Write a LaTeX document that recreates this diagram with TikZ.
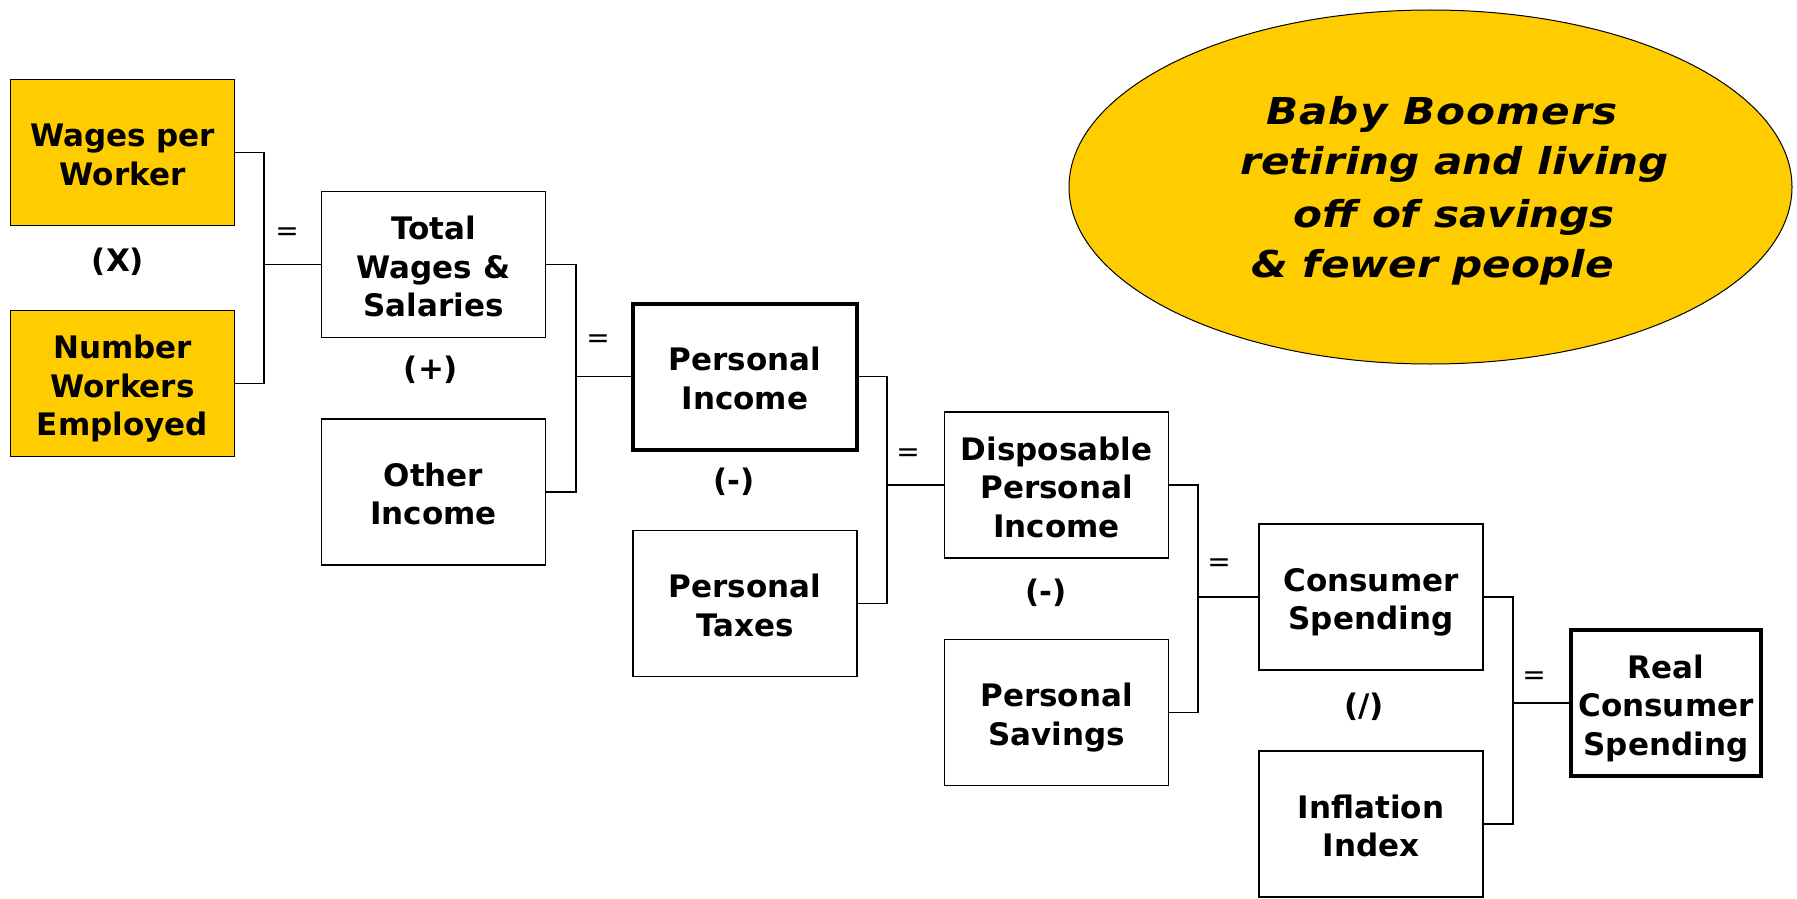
\documentclass[tikz,border=0pt]{standalone}
\usepackage{fontspec}
\setmainfont{DejaVu Sans}
\newfontfamily\widefont{DejaVu Sans}[FakeStretch=1.14]
\usetikzlibrary{shapes.geometric}
\definecolor{gold}{RGB}{255,204,0}
% centred stack of lines, set slightly below the middle of its box
\newcommand\boxlines[1]{\raisebox{-5.9pt}[\height][\depth]{\begin{tabular}{@{}c@{}}#1\end{tabular}}}
\begin{document}
\begin{tikzpicture}[x=1pt,y=-1pt,
  box/.style={draw, line width=1.3pt, minimum width=224pt, minimum height=146pt,
    inner sep=0pt, font=\fontsize{31}{38.5}\selectfont\bfseries},
  hot/.style={box, fill=gold},
  key/.style={box, line width=4pt},
  wire/.style={line width=1.3pt},
  eq/.style={inner sep=0pt, font=\fontsize{28}{28}\selectfont},
  op/.style={inner sep=0pt, font=\fontsize{31}{31}\selectfont\bfseries},
  note/.style={inner sep=0pt, anchor=base west, font=\widefont\fontsize{37}{51}\selectfont\bfseries\itshape}]
\useasboundingbox (0,0) rectangle (1797,899);

% boxes of the income chain
\node[hot] (wages)   at (122.5,152.5) {\boxlines{Wages per\\Worker}};
\node[hot] (number)  at (122.5,383.5) {\boxlines{Number\\Workers\\Employed}};
\node[box] (total)   at (433.5,264.5) {\boxlines{Total\\Wages \&\\Salaries}};
\node[box] (other)   at (433.5,492)   {\boxlines{Other\\Income}};
\node[key] (pinc)    at (745,376.5)   {\boxlines{Personal\\Income}};
\node[box] (taxes)   at (745,603.5)   {\boxlines{Personal\\Taxes}};
\node[box] (dpi)     at (1056.5,485)  {\boxlines{Disposable\\Personal\\Income}};
\node[box] (savings) at (1056.5,712.5) {\boxlines{Personal\\Savings}};
\node[box] (cons)    at (1371,597)    {\boxlines{Consumer\\Spending}};
\node[box] (infl)    at (1371,824)    {\boxlines{Inflation\\Index}};
\node[key, minimum width=190pt] (real) at (1666,703) {\boxlines{Real\\Consumer\\Spending}};

% bracket columns
\coordinate (j1) at (264,0);
\coordinate (j2) at (576,0);
\coordinate (j3) at (887,0);
\coordinate (j4) at (1198,0);
\coordinate (j5) at (1513,0);

\draw[wire] (wages.east) -| (j1 |- total.west) |- (number.east);
\draw[wire] (total.west) -- (j1 |- total.west);
\draw[wire] (total.east) -| (j2 |- pinc.west) |- (other.east);
\draw[wire] (pinc.west) -- (j2 |- pinc.west);
\draw[wire] (pinc.east) -| (j3 |- dpi.west) |- (taxes.east);
\draw[wire] (dpi.west) -- (j3 |- dpi.west);
\draw[wire] (dpi.east) -| (j4 |- cons.west) |- (savings.east);
\draw[wire] (cons.west) -- (j4 |- cons.west);
\draw[wire] (cons.east) -| (j5 |- real.west) |- (infl.east);
\draw[wire] (real.west) -- (j5 |- real.west);

% equals signs
\node[eq] (e1) at (287,234) {=};
\node[eq] (e2) at (598,341) {=};
\node[eq] (e3) at (908,455) {=};
\node[eq] (e4) at (1219,565) {=};
\node[eq] (e5) at (1534,678) {=};

% operators
\node[op] (o1) at (118,262)  {(X)};
\node[op] (o2) at (431,370)  {(+)};
\node[op] (o3) at (734,482)  {(-)};
\node[op] (o4) at (1046,593) {(-)};
\node[op] (o5) at (1364,707) {(/)};

% demographic note
\node[ellipse, draw, line width=1pt, fill=gold, minimum width=723pt, minimum height=354pt, inner sep=0pt] (cloud) at (1430.5,187) {};
\node[note] (n1) at (1266,124) {\addfontfeature{LetterSpace=2.8}Baby Boomers};
\node[note] (n2) at (1240,174) {retiring and living};
\node[note] (n3) at (1293,227) {off of savings};
\node[note] (n4) at (1251,277) {\& fewer people};
\end{tikzpicture}
\end{document}
